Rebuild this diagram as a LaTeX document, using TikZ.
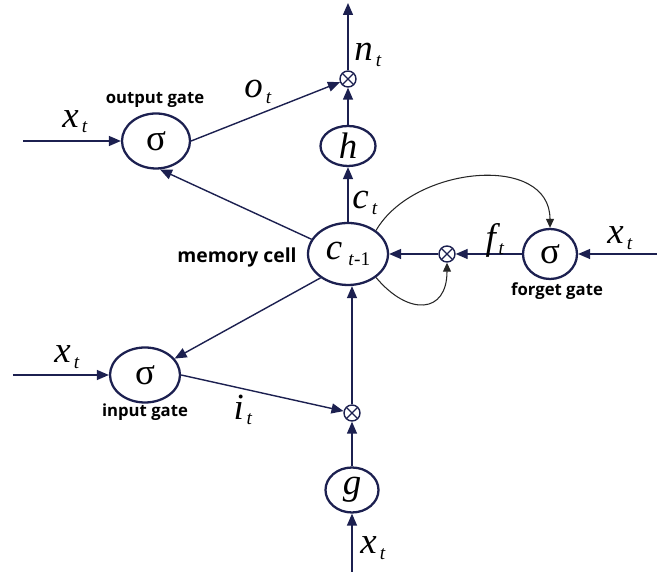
\documentclass[tikz,border=0pt]{standalone}
\usepackage{fontspec}
\setmainfont{Liberation Serif}
\newfontfamily\gatefont{Open Sans}
\usepackage{tikz}
\usetikzlibrary{arrows.meta}
\usetikzlibrary{shapes,shapes.geometric}
\definecolor{navy}{RGB}{28,32,80}
\newcommand{\vsub}[2]{{\fontsize{21}{21}\selectfont\itshape #1}\,\raisebox{-3pt}{\fontsize{11}{11}\selectfont #2}}
\tikzset{
  unit/.style={ellipse, draw=navy, line width=1.3pt, inner sep=0pt, font=\fontsize{21}{21}\selectfont},
  mult/.style={circle, draw=navy, line width=0.8pt, minimum size=3.2mm, inner sep=0pt,
    path picture={\draw[navy, line width=0.7pt, shift={(path picture bounding box.center)}]
      (-.11,-.11) -- (.11,.11) (-.11,.11) -- (.11,-.11);}},
  conn/.style={draw=navy, line width=0.8pt, -{Triangle[length=2.4mm,width=2mm]}},
  feed/.style={draw=black!85, line width=0.6pt, -{Triangle[length=1.8mm,width=1.6mm]}},
  gatelabel/.style={font=\gatefont\bfseries\fontsize{9.5}{10}\selectfont, inner sep=0pt},
  varlabel/.style={inner sep=0pt}
}

\begin{document}
\begin{tikzpicture}
      \useasboundingbox (0,0) rectangle (13.14,11.5);
      % cells and gates
      \node[unit, minimum width=1.6cm, minimum height=1.24cm] (mem) at (6.96,6.42) {\vsub{c}{\textit{t}-1}};
      \node[unit, minimum width=1.1cm, minimum height=0.8cm] (h) at (6.96,8.58) {\itshape h};
      \node[mult] (mtop) at (6.96,9.92) {};
      \node[unit, minimum width=1.36cm, minimum height=1.1cm] (og) at (3.12,8.68) {σ};
      \node[unit, minimum width=1.08cm, minimum height=1.0cm] (fg) at (11.0,6.42) {σ};
      \node[mult] (mfor) at (8.94,6.42) {};
      \node[unit, minimum width=1.4cm, minimum height=1.1cm] (ig) at (2.9,4.0) {σ};
      \node[mult] (mbot) at (7.04,3.24) {};
      \node[unit, minimum width=1.06cm, minimum height=0.9cm] (g) at (7.04,1.7) {\itshape g};
      % free ends
      \coordinate (xo) at (0.46,8.68);
      \coordinate (xf) at (13.14,6.42);
      \coordinate (xi) at (0.26,4.0);
      \coordinate (xg) at (7.04,0.06);
      \coordinate (nout) at (6.96,11.44);
      % connectors
      \draw[conn] (xo) -- (og);
      \draw[conn] (og.east) -- (mtop);
      \draw[conn] (mem.158) -- (og.-82);
      \draw[conn] (mem) -- (h);
      \draw[conn] (h) -- (mtop);
      \draw[conn] (mtop) -- (nout);
      \draw[conn] (xf) -- (fg);
      \draw[conn] (fg) -- (mfor);
      \draw[conn] (mfor) -- (mem);
      \draw[feed] (mem.40) to[out=60, in=90, looseness=1.1] (fg.north);
      \draw[feed] (mem.-40) to[out=-50, in=-90, looseness=1.8] (mfor.south);
      \draw[conn] (xi) -- (ig);
      \draw[conn] (mem.221) -- (ig.29);
      \draw[conn] (ig.east) -- (mbot);
      \draw[conn] (mbot) -- (mbot |- mem.south);
      \draw[conn] (g) -- (mbot);
      \draw[conn] (xg) -- (g);
      % labels
      \node[gatelabel] (lout) at (3.1,9.5) {output gate};
      \node[gatelabel, font=\gatefont\bfseries\fontsize{11}{12}\selectfont] (lmem) at (4.74,6.36) {memory cell};
      \node[gatelabel] (lfor) at (11.14,5.68) {forget gate};
      \node[gatelabel] (lin) at (2.9,3.26) {input gate};
      \node[varlabel] (vxo) at (1.5,9.06) {\vsub{x}{\textit{t}}};
      \node[varlabel] (vo) at (5.16,9.66) {\vsub{o}{\textit{t}}};
      \node[varlabel] (vn) at (7.36,10.4) {\vsub{n}{\textit{t}}};
      \node[varlabel] (vc) at (7.3,7.44) {\vsub{c}{\textit{t}}};
      \node[varlabel] (vf) at (9.9,6.7) {\vsub{f}{\textit{t}}};
      \node[varlabel] (vxf) at (12.4,6.74) {\vsub{x}{\textit{t}}};
      \node[varlabel] (vxi) at (1.34,4.36) {\vsub{x}{\textit{t}}};
      \node[varlabel] (vi) at (4.86,3.3) {\vsub{i}{\textit{t}}};
      \node[varlabel] (vxg) at (7.46,0.54) {\vsub{x}{\textit{t}}};
\end{tikzpicture}
\end{document}
